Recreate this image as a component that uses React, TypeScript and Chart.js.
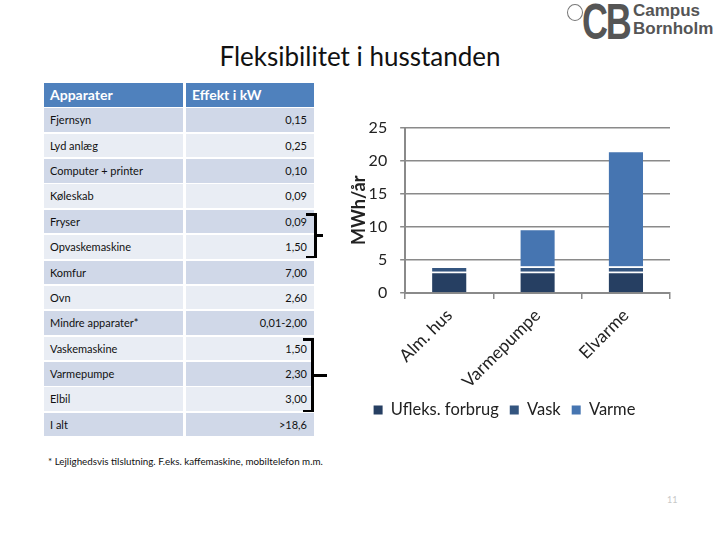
import React, { useEffect, useRef } from "react";
import { Chart, registerables } from "chart.js";

Chart.register(...registerables);

const categories = ["Alm. hus", "Varmepumpe", "Elvarme"];
const ufleks = [3.2, 3.2, 3.2];
const vask = [0.8, 0.8, 0.8];
const varme = [0, 5.7, 17.5];
const seriesNames = ["Ufleks. forbrug", "Vask", "Varme"];
const seriesColors = ["#263f62", "#34557f", "#4675b1"];
const yMin = 0;
const yMax = 25;
const yStep = 5;

const apparater = [
  "Fjernsyn",
  "Lyd anlæg",
  "Computer + printer",
  "Køleskab",
  "Fryser",
  "Opvaskemaskine",
  "Komfur",
  "Ovn",
  "Mindre apparater*",
  "Vaskemaskine",
  "Varmepumpe",
  "Elbil",
  "I alt",
];
const effekt = [
  "0,15",
  "0,25",
  "0,10",
  "0,09",
  "0,09",
  "1,50",
  "7,00",
  "2,60",
  "0,01-2,00",
  "1,50",
  "2,30",
  "3,00",
  ">18,6",
];

const FONT = "Lato, 'Open Sans', sans-serif";

function BarChart() {
  const ref = useRef<HTMLCanvasElement>(null);
  useEffect(() => {
    if (!ref.current) return;
    const datasets = [ufleks, vask, varme].map((d, i) => ({
      label: seriesNames[i],
      data: d,
      backgroundColor: seriesColors[i],
      borderColor: "#ffffff",
      borderWidth: { top: 1.5, left: 0, right: 0, bottom: 0 },
      borderSkipped: "start" as const,
      barPercentage: 0.39,
      categoryPercentage: 1,
    }));
    const chart = new Chart(ref.current, {
      type: "bar",
      data: { labels: categories, datasets },
      options: {
        animation: false,
        responsive: false,
        layout: { padding: { top: 6, right: 5, left: 0, bottom: 0 } },
        plugins: {
          tooltip: { enabled: false },
          legend: {
            position: "bottom",
            maxHeight: 34.25,
            labels: {
              boxWidth: 9,
              boxHeight: 9,
              padding: 11,
              color: "#222",
              font: { family: FONT, size: 16.5 },
              generateLabels: (c: any) =>
                c.data.datasets.map((ds: any, i: number) => ({
                  text: ds.label,
                  fillStyle: ds.backgroundColor,
                  strokeStyle: ds.backgroundColor,
                  lineWidth: 0,
                  hidden: false,
                  datasetIndex: i,
                  fontColor: "#222",
                })),
            },
          },
        },
        scales: {
          x: {
            stacked: true,
            offset: true,
            afterFit: (scale: any) => {
              scale.height = 97.75;
            },
            grid: {
              offset: true,
              drawOnChartArea: false,
              drawTicks: true,
              tickLength: 6,
              color: "#8a8a8a",
              lineWidth: 1.5,
            },
            border: { color: "#8a8a8a", width: 2 },
            ticks: {
              autoSkip: false,
              maxRotation: 45,
              minRotation: 45,
              padding: 6,
              color: "#222",
              font: { family: FONT, size: 17.5 },
            },
          },
          y: {
            stacked: true,
            min: yMin,
            max: yMax,
            ticks: {
              stepSize: yStep,
              padding: 13,
              color: "#222",
              font: { family: FONT, size: 16 },
            },
            grid: { color: "#8a8a8a", lineWidth: 1.5, tickLength: 5 },
            border: { color: "#8a8a8a", width: 2 },
            title: {
              display: true,
              text: "MWh/år",
              color: "#222",
              font: { family: FONT, size: 18, weight: "bold" },
              padding: { top: 9, bottom: -14 },
            },
          },
        },
      },
    });
    return () => chart.destroy();
  }, []);
  return (
    <canvas
      ref={ref}
      width={336}
      height={320}
      style={{ position: "absolute", left: 339, top: 105, width: 336, height: 320 }}
    />
  );
}

function Table() {
  const top0 = 83;
  const pitch = 25.36;
  const h = 23.6;
  const c1 = { left: 44, width: 139 };
  const c2 = { left: 186, width: 128 };
  const cells: React.ReactNode[] = [];
  const headStyle: React.CSSProperties = {
    position: "absolute",
    top: top0,
    height: h,
    background: "#4f81bd",
    color: "#fff",
    fontWeight: "bold",
    fontSize: 14,
    lineHeight: h + "px",
    paddingLeft: 6,
    boxSizing: "border-box",
    fontFamily: FONT,
  };
  cells.push(
    <div key="h1" style={{ ...headStyle, left: c1.left, width: c1.width }}>Apparater</div>,
    <div key="h2" style={{ ...headStyle, left: c2.left, width: c2.width }}>Effekt i kW</div>
  );
  apparater.forEach((name, i) => {
    const top = top0 + pitch * (i + 1);
    const bg = i % 2 === 0 ? "#d0d8e8" : "#e9edf4";
    const base: React.CSSProperties = {
      position: "absolute",
      top,
      height: h,
      background: bg,
      color: "#111",
      fontSize: 11,
      lineHeight: h + "px",
      boxSizing: "border-box",
      fontFamily: FONT,
      whiteSpace: "nowrap",
    };
    cells.push(
      <div key={"a" + i} style={{ ...base, left: c1.left, width: c1.width, paddingLeft: 6 }}>{name}</div>,
      <div key={"b" + i} style={{ ...base, left: c2.left, width: c2.width, paddingRight: 7, textAlign: "right" }}>{effekt[i]}</div>
    );
  });
  return <>{cells}</>;
}

function Bracket({ top, bottom, x, tip }: { top: number; bottom: number; x: number; tip: number }) {
  const mid = (top + bottom) / 2;
  const s: React.CSSProperties = { position: "absolute", background: "#000" };
  return (
    <>
      <div style={{ ...s, left: x - 8, top: top, width: 10, height: 2.5 }} />
      <div style={{ ...s, left: x - 8, top: bottom - 2.5, width: 10, height: 2.5 }} />
      <div style={{ ...s, left: x, top: top, width: 2.5, height: bottom - top }} />
      <div style={{ ...s, left: x, top: mid - 1.5, width: tip - x, height: 3 }} />
    </>
  );
}

function Logo() {
  return (
    <div style={{ position: "absolute", left: 560, top: 0, width: 160, height: 48 }}>
      <div
        style={{
          position: "absolute",
          left: 7,
          top: 4,
          width: 16,
          height: 17,
          borderRadius: "50%",
          border: "1.5px solid #777",
          boxSizing: "border-box",
        }}
      />
      <div
        style={{
          position: "absolute",
          left: 22,
          top: -3,
          fontFamily: "'Liberation Sans', sans-serif",
          fontWeight: "bold",
          fontSize: 50,
          color: "#555",
          letterSpacing: -3,
          lineHeight: "50px",
          transform: "scaleX(0.72)",
          transformOrigin: "left top",
        }}
      >
        CB
      </div>
      <div
        style={{
          position: "absolute",
          left: 73,
          top: 2,
          fontFamily: "'Liberation Sans', sans-serif",
          fontWeight: "bold",
          fontSize: 17,
          color: "#555",
          lineHeight: "18px",
          whiteSpace: "nowrap",
        }}
      >
        Campus
        <br />
        Bornholm
      </div>
    </div>
  );
}

export default function App() {
  return (
    <div
      style={{
        position: "fixed",
        left: 0,
        top: 0,
        width: 720,
        height: 540,
        background: "#fff",
        overflow: "hidden",
      }}
    >
      <Logo />
      <div
        style={{
          position: "absolute",
          left: 0,
          width: 720,
          top: 40,
          textAlign: "center",
          fontFamily: FONT,
          fontSize: 26,
          color: "#111",
          lineHeight: "32px",
        }}
      >
        Fleksibilitet i husstanden
      </div>
      <Table />
      <Bracket top={213} bottom={258} x={314} tip={323} />
      <Bracket top={338} bottom={412} x={311} tip={327} />
      <BarChart />
      <div
        style={{
          position: "absolute",
          left: 48,
          top: 455,
          fontFamily: FONT,
          fontSize: 9.8,
          color: "#111",
          whiteSpace: "nowrap",
        }}
      >
        * Lejlighedsvis tilslutning. F.eks. kaffemaskine, mobiltelefon m.m.
      </div>
      <div
        style={{
          position: "absolute",
          left: 667,
          top: 494,
          fontFamily: FONT,
          fontSize: 9,
          color: "#c8c8c8",
        }}
      >
        11
      </div>
    </div>
  );
}
